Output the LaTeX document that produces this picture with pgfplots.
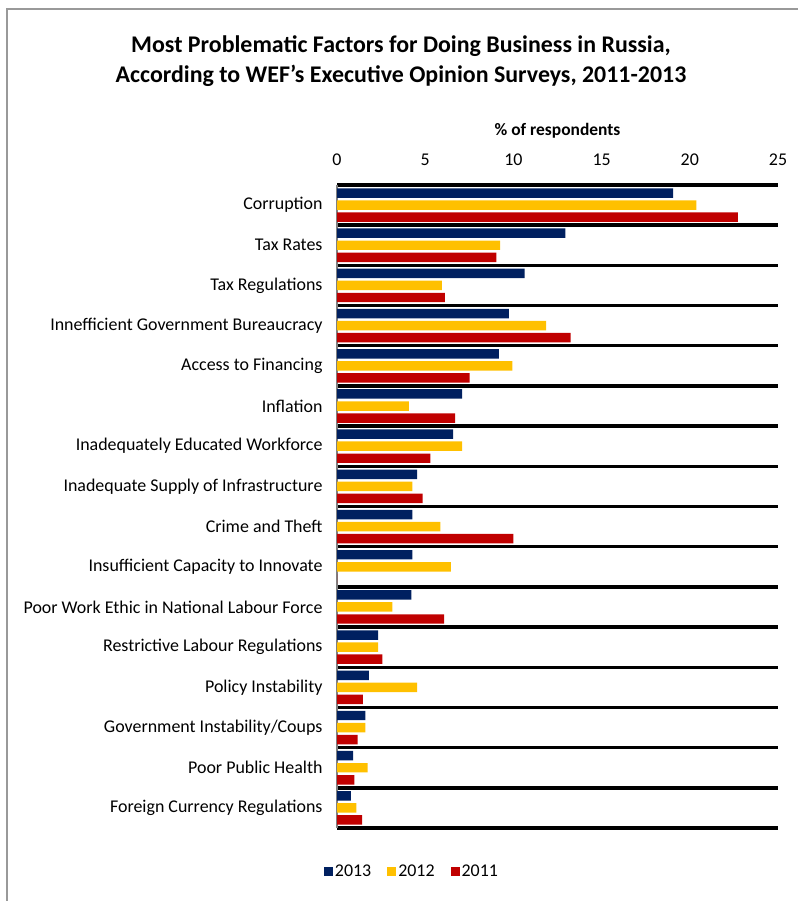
\documentclass[border=0pt]{standalone}
\usepackage{pgfplots}
\pgfplotsset{compat=1.18}
\usepackage{fontspec}
\setmainfont{Carlito}
\definecolor{c2013}{HTML}{002060}
\definecolor{c2012}{HTML}{FFC000}
\definecolor{c2011}{HTML}{C00000}
\begin{document}
\begin{tikzpicture}[x=1bp,y=1bp]
\path[use as bounding box] (0,0) rectangle (798,901);
\draw[gray!80, line width=2bp] (7,0) -- (7,892) -- (798,892);
\node[font=\fontsize{24}{30.5}\selectfont\bfseries, align=center] at (401,840)
  {Most Problematic Factors for Doing Business in Russia,\\According to WEF's Executive Opinion Surveys, 2011-2013};
\begin{axis}[
  at={(337bp,73bp)}, anchor=south west,
  scale only axis, width=441bp, height=643bp,
  xbar, bar width=0.235,
  xmin=0, xmax=25, xtick={0,5,...,25},
  ymin=-0.5, ymax=15.5, y dir=reverse,
  ytick={0,...,15},
  yticklabels={Corruption, Tax Rates, Tax Regulations, Innefficient Government Bureaucracy, Access to Financing, Inflation, Inadequately Educated Workforce, Inadequate Supply of Infrastructure, Crime and Theft, Insufficient Capacity to Innovate, Poor Work Ethic in National Labour Force, Restrictive Labour Regulations, Policy Instability, Government Instability/Coups, Poor Public Health, Foreign Currency Regulations},
  minor ytick={-0.5,0.5,...,15.5},
  yminorgrids=true,
  minor grid style={black, line width=3.5bp},
  axis x line*=top, axis y line*=left,
  x axis line style={draw=none},
  y axis line style={draw=gray, line width=1.5bp},
  major tick length=0pt, minor tick length=0pt,
  xticklabel style={font=\fontsize{18}{21}\selectfont, yshift=16bp},
  yticklabel style={font=\fontsize{18}{21}\selectfont, xshift=-11bp},
  /pgf/number format/assume math mode=true,
  xlabel={\textbf{\% of respondents}},
  xlabel style={font=\fontsize{17.5}{21}\selectfont, yshift=9bp},
  legend style={draw=none, at={(0.17,-0.067)}, anchor=center, legend columns=3,
    font=\fontsize{18}{21}\selectfont, /tikz/every even column/.append style={column sep=14bp}},
  legend image code/.code={\fill[#1] (0bp,-4.5bp) rectangle (9bp,4.5bp);},
  clip=false,
]
\addplot[fill=c2013, draw=none, bar shift=-0.3] coordinates {
(19.05,0) (12.95,1) (10.64,2) (9.75,3) (9.18,4) (7.09,5) (6.58,6) (4.54,7)
(4.27,8) (4.27,9) (4.22,10) (2.33,11) (1.81,12) (1.61,13) (0.91,14) (0.79,15)};
\addplot[fill=c2012, draw=none, bar shift=0] coordinates {
(20.37,0) (9.24,1) (5.94,2) (11.85,3) (9.94,4) (4.08,5) (7.09,6) (4.27,7)
(5.86,8) (6.45,9) (3.14,10) (2.33,11) (4.54,12) (1.61,13) (1.74,14) (1.10,15)};
\addplot[fill=c2011, draw=none, bar shift=0.3] coordinates {
(22.73,0) (9.04,1) (6.12,2) (13.25,3) (7.52,4) (6.69,5) (5.29,6) (4.86,7)
(10.00,8) (0,9) (6.07,10) (2.57,11) (1.47,12) (1.17,13) (0.99,14) (1.42,15)};
\legend{2013,2012,2011}
\end{axis}
\end{tikzpicture}
\end{document}
